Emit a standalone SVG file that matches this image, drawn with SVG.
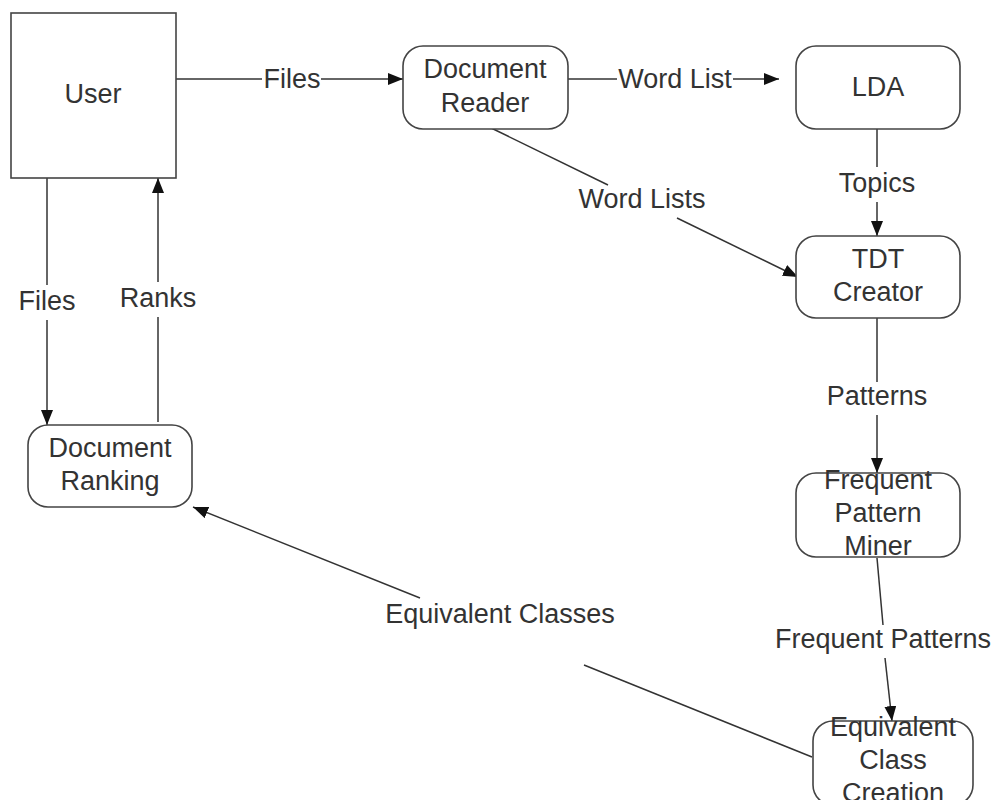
<svg xmlns="http://www.w3.org/2000/svg" width="997" height="800" viewBox="0 0 997 800">
<defs>
<marker id="ah" markerUnits="userSpaceOnUse" markerWidth="16" markerHeight="12" refX="15" refY="6" orient="auto">
<path d="M0,0 L15,6 L0,12 Z" fill="#111"/>
</marker>
<style>
.box{fill:#fff;stroke:#444;stroke-width:1.6}
.t{font-family:"Liberation Sans",Arial,sans-serif;font-size:27px;fill:#333;text-anchor:middle}
.c{stroke:#333;stroke-width:1.5;fill:none}
.a{marker-end:url(#ah)}
</style>
</defs>
<rect width="997" height="800" fill="#fff"/>
<g id="connectors">
<line class="c" x1="176" y1="79" x2="262" y2="79"/>
<line class="c a" x1="321" y1="79" x2="403" y2="79"/>
<line class="c" x1="568" y1="79" x2="617" y2="79"/>
<line class="c a" x1="733" y1="79" x2="779" y2="79"/>
<line class="c" x1="877" y1="129" x2="877" y2="167"/>
<line class="c a" x1="877" y1="202" x2="877" y2="236"/>
<line class="c" x1="485" y1="125" x2="608" y2="185"/>
<line class="c a" x1="677" y1="218" x2="798" y2="277"/>
<line class="c" x1="47" y1="178" x2="47" y2="285"/>
<line class="c a" x1="47" y1="320" x2="47" y2="425"/>
<line class="c" x1="158" y1="422" x2="158" y2="317"/>
<line class="c a" x1="158" y1="282" x2="158" y2="178"/>
<line class="c" x1="877" y1="318" x2="877" y2="382"/>
<line class="c a" x1="877" y1="415" x2="877" y2="473"/>
<line class="c" x1="877" y1="558" x2="883" y2="625"/>
<line class="c a" x1="885" y1="658" x2="892" y2="721"/>
<line class="c" x1="812" y1="757" x2="584" y2="665"/>
<line class="c a" x1="420" y1="598" x2="193" y2="507"/>
<text class="t" x="292" y="88">Files</text>
<text class="t" x="675" y="88">Word List</text>
<text class="t" x="877" y="192">Topics</text>
<text class="t" x="642" y="208">Word Lists</text>
<text class="t" x="47" y="310">Files</text>
<text class="t" x="158" y="307">Ranks</text>
<text class="t" x="877" y="405">Patterns</text>
<text class="t" x="883" y="648">Frequent Patterns</text>
<text class="t" x="500" y="623">Equivalent Classes</text>
</g>
<g id="user">
<rect class="box" x="11" y="13" width="165" height="165"/>
<text class="t" x="93" y="103">User</text>
</g>
<g id="document-reader">
<rect class="box" x="403" y="46" width="165" height="83" rx="20"/>
<text class="t" x="485" y="78">Document</text>
<text class="t" x="485" y="112">Reader</text>
</g>
<g id="lda">
<rect class="box" x="796" y="46" width="164" height="83" rx="20"/>
<text class="t" x="878" y="96">LDA</text>
</g>
<g id="tdt-creator">
<rect class="box" x="796" y="236" width="164" height="82" rx="20"/>
<text class="t" x="878" y="268">TDT</text>
<text class="t" x="878" y="301">Creator</text>
</g>
<g id="document-ranking">
<rect class="box" x="28" y="425" width="164" height="82" rx="20"/>
<text class="t" x="110" y="457">Document</text>
<text class="t" x="110" y="490">Ranking</text>
</g>
<g id="frequent-pattern-miner">
<rect class="box" x="796" y="473" width="164" height="84" rx="20"/>
<text class="t" x="878" y="489">Frequent</text>
<text class="t" x="878" y="522">Pattern</text>
<text class="t" x="878" y="555">Miner</text>
</g>
<g id="equivalent-class-creation">
<rect class="box" x="813" y="721" width="160" height="84" rx="20"/>
<text class="t" x="893" y="736">Equivalent</text>
<text class="t" x="893" y="769">Class</text>
<text class="t" x="893" y="802">Creation</text>
</g>
</svg>
